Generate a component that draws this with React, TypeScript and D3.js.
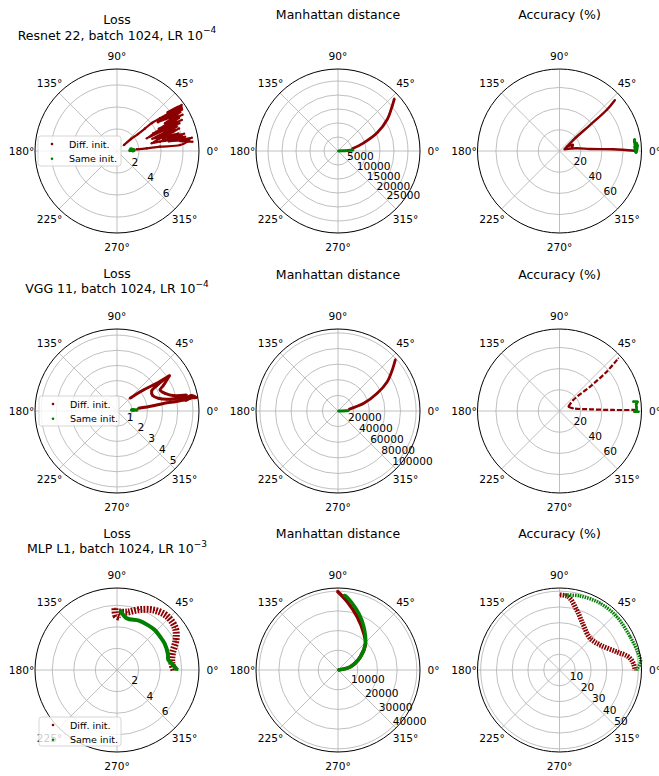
import React from "react";
import * as d3 from "d3";

type P = [number, number]; // [theta in degrees, radius value]

const W = 659;
const H = 776;
const R = 82;
const RED = "#8b0000";
const GREEN = "#008000";
const angleTicks = [0, 45, 90, 135, 180, 225, 270, 315];

// ---------------- Row 1 : Resnet 22 ----------------
const resnetLossTicks = [2, 4, 6];
const resnetLossMax = 7.45;
const resnetLossDiff: P[][] = [
  [[40.6, 0.84], [40.6, 1.67], [39, 2.45], [38.8, 3.26], [38.7, 4.07], [34.4, 7.09], [37.3, 4.91], [33.4, 7.04],
   [35, 4.55], [31.5, 6.73], [30, 5.04], [31.1, 6.34], [26.1, 4.69], [28, 6.36], [23, 2.94], [25.6, 6.52],
   [26, 3.67], [22.2, 5.86], [17.7, 3.79], [20, 6.0], [18.9, 5.41], [17.8, 4.75], [12.5, 3.23], [13.9, 6.05],
   [12.2, 4.0], [11.9, 6.32], [12.1, 4.77], [8.7, 6.65], [12, 5.55], [7.6, 6.39], [5.4, 5.75], [5.7, 3.93],
   [5.2, 2.71], [4.9, 1.8]],
  [[36, 4.6], [36, 6.6], [33, 5.3], [32.5, 7.0], [31, 5.6], [29, 6.8], [28, 4.3], [27.5, 5.8], [24, 4.2],
   [24, 6.2], [21, 4.4], [21.5, 5.5], [19, 3.4], [16, 5.8], [15, 4.3], [14.5, 6.3], [10.5, 4.8], [10, 6.9],
   [9, 5.8], [7, 6.9]],
  [[37.5, 5.8], [35.5, 7.2], [34, 6.2], [29.5, 5.9], [25, 5.2], [22.5, 4.8], [19.5, 4.9], [16.5, 4.9], [13.5, 5.2], [11, 5.6]],
];
const resnetLossSame: P[][] = [[[2, 1.18], [4, 1.32], [6, 1.36], [1, 1.45], [3, 1.55], [8, 1.27]]];

const resnetDistTicks = [5000, 10000, 15000, 20000, 25000];
const resnetDistMax = 29300;
const resnetDistDiff: P[][] = [[[8.8, 5145], [17.6, 9650], [24.9, 15435], [32.6, 20870], [39.6, 25120], [42.9, 27510]]];
const resnetDistSame: P[][] = [[[0, 0], [2, 1790], [3, 3570], [3.7, 5540]]];

const resnetAccTicks = [20, 40, 60];
const resnetAccMax = 77.4;
const resnetAccDiff: P[][] = [
  [[20, 5], [38.6, 16.6], [40.4, 37.8], [41, 59], [42.6, 71.2]],
  [[20, 5], [9, 16.4], [3.7, 28.9], [1.8, 50.8], [0.2, 71.3]],
  [[30, 8], [25, 14], [15, 12]],
];
const resnetAccSame: P[][] = [[[8.8, 71.7], [7, 71.3], [5, 71.7], [3, 71.3], [1, 71.7], [-1, 72.2], [4, 73.6], [6, 72.7]]];

// ---------------- Row 2 : VGG 11 ----------------
const vggLossTicks = [1, 2, 3, 4, 5];
const vggLossMax = 5.4;
const vggLossDiff: P[][] = [
  [[44.3, 1.2], [38.6, 2.22], [34.9, 3.19], [34, 4.16], [33.8, 3.67], [32.5, 3.1], [30, 2.64], [23.2, 2.56],
   [17.1, 2.85], [13.2, 3.36], [12, 4.02], [11.4, 4.57], [10.6, 5.11], [9.9, 4.88], [9.4, 4.43], [9.1, 3.87],
   [9.3, 3.54], [8.3, 2.42], [7.2, 1.42]],
  [[34, 4.16], [29, 3.5], [26, 3.16], [20.2, 3.37], [15, 3.9], [13, 4.7]],
  [[12.5, 4.2], [10.8, 4.7], [11.8, 5.0], [9.6, 5.3], [10.2, 4.9], [8.8, 4.6], [11, 4.3]],
];
const vggLossSame: P[][] = [[[4, 0.97], [3.5, 1.12], [3, 1.3], [4.5, 1.05]]];

const vggDistTicks = [20000, 40000, 60000, 80000, 100000];
const vggDistMax = 105000;
const vggDistDiff: P[][] = [[[9, 13960], [16.6, 34450], [24.3, 55060], [30.8, 73370], [37.1, 87070], [42, 98980]]];
const vggDistSame: P[][] = [[[0, 0], [1, 5120], [1.5, 10240], [2, 13830]]];

const vggAccTicks = [20, 40, 60];
const vggAccMax = 77.4;
const vggAccDiff: P[][] = [
  [[26, 9.4], [38.6, 16.6], [38.5, 36.8], [39.8, 58], [41.9, 74.6]],
  [[26, 9.4], [11, 13.2], [3.2, 28.8], [1.1, 50.8], [0.8, 71.3]],
];
const vggAccSame: P[][] = [
  [[7.2, 70.3], [6.8, 74.1], [5, 72.7], [3, 72.7], [1, 72.7], [-0.5, 70.8], [-0.5, 74.6]],
];

// ---------------- Row 3 : MLP L1 ----------------
const mlpLossTicks = [2, 4, 6];
const mlpLossMax = 7.6;
const mlpLossDiff: P[][] = [
  [[91.9, 5.72], [91, 5.01], [86.7, 4.89]],
  [[88, 5.38], [80, 5.45], [70, 5.95], [58, 6.54], [47, 6.81], [36, 6.67], [27, 6.14], [16, 5.33], [7, 5.13], [0, 5.28]],
];
const mlpLossSame: P[][] = [
  [[87.1, 5.57], [79.4, 4.88], [66, 5.0], [55, 5.05], [47, 5.1], [38, 5.05], [29, 5.05], [18, 4.95], [11, 4.85], [7, 5.1], [0, 5.6]],
];

const mlpDistTicks = [10000, 20000, 30000, 40000];
const mlpDistMax = 41600;
const mlpDistDiff: P[][] = [
  [[0, 0], [14.8, 6540], [30.6, 13240], [44.1, 19430], [54.9, 22780], [70.2, 28760], [82.3, 34950], [90.6, 40080]],
];
const mlpDistSame: P[][] = [
  [[0, 0], [14.8, 6540], [30.6, 13240], [44.1, 19430], [59.2, 25570], [69.9, 30640], [78, 34600], [84.2, 37740], [85.6, 38150]],
];

const mlpAccTicks = [10, 20, 30, 40, 50];
const mlpAccMax = 52;
const mlpAccDiff: P[][] = [
  [[89.6, 47.6], [83.2, 46.8], [74, 39.6], [62.1, 32.3], [46.1, 27.9], [31.7, 30.2], [17.7, 38], [10.9, 44.4], [5.2, 47], [0, 47.9]],
];
const mlpAccSame: P[][] = [
  [[85.8, 47.7], [74.5, 48.7], [58.7, 49.5], [43, 49.6], [25.3, 49.5], [12, 51.1], [6, 51.7], [0, 48.9]],
];

// ---------------- Layout ----------------
const colX = [117, 338, 559.5];
const rowY = [151, 411, 670];

interface Style { width: number; dash?: string; dot: number }
interface TitleLine { y: number; text: string; sup?: string }

interface PanelProps {
  cx: number; cy: number; rmax: number; ticks: number[];
  diff: P[][]; same: P[][];
  diffStyle: Style; sameStyle: Style;
  titles: TitleLine[];
  legend?: { x: number; y: number; w: number; h: number };
}

const FONT = "DejaVu Sans, Verdana, sans-serif";
const rad = (d: number) => (d * Math.PI) / 180;

function Panel(p: PanelProps) {
  const r = d3.scaleLinear().domain([0, p.rmax]).range([0, R]);
  const line = d3
    .lineRadial<P>()
    .angle((d) => Math.PI / 2 - rad(d[0]))
    .radius((d) => r(d[1]))
    .curve(d3.curveCatmullRom.alpha(0.5));
  const xy = (d: P) => [r(d[1]) * Math.cos(rad(d[0])), -r(d[1]) * Math.sin(rad(d[0]))];

  const series = (traces: P[][], color: string, s: Style, key: string) => (
    <g key={key}>
      {traces.map((t, i) => (
        <path key={i} d={line(t) || ""} fill="none" stroke={color} strokeWidth={s.width}
          strokeDasharray={s.dash} strokeLinejoin="round" />
      ))}
      {traces.map((t, i) =>
        t.map((d, j) => {
          const [x, y] = xy(d);
          return <circle key={`${i}-${j}`} cx={x} cy={y} r={s.dot} fill={color} />;
        })
      )}
    </g>
  );

  return (
    <g>
      {p.titles.map((t, i) => (
        <text key={i} x={p.cx} y={t.y} textAnchor="middle" dominantBaseline="central" fontSize={12.5} fontFamily={FONT} fill="#000">
          {t.text}
          {t.sup && <tspan dy={-5} fontSize={9}>{t.sup}</tspan>}
        </text>
      ))}
      <g transform={`translate(${p.cx},${p.cy})`}>
        {p.ticks.map((t) => (
          <circle key={t} r={r(t)} fill="none" stroke="#b0b0b0" strokeWidth={0.8} />
        ))}
        {angleTicks.map((a) => (
          <line key={a} x1={0} y1={0} x2={R * Math.cos(rad(a))} y2={-R * Math.sin(rad(a))} stroke="#b0b0b0" strokeWidth={0.8} />
        ))}
        {series(p.diff, RED, p.diffStyle, "diff")}
        {series(p.same, GREEN, p.sameStyle, "same")}
        <circle r={R} fill="none" stroke="#000" strokeWidth={1} />
        {angleTicks.map((a) => (
          <text key={a} x={95.5 * Math.cos(rad(a))} y={-95.5 * Math.sin(rad(a))} textAnchor="middle"
            dominantBaseline="central" fontSize={10.6} fontFamily={FONT} fill="#000">
            {`${a}°`}
          </text>
        ))}
        {p.ticks.map((t) => (
          <text key={t} x={r(t) * Math.SQRT1_2 - 1} y={r(t) * Math.SQRT1_2 - 5} textAnchor="start"
            dominantBaseline="central" fontSize={10.6} fontFamily={FONT} fill="#000">
            {String(t)}
          </text>
        ))}
      </g>
      {p.legend && (
        <g>
          <rect x={p.legend.x} y={p.legend.y} width={p.legend.w} height={p.legend.h} rx={2.5}
            fill="#fff" fillOpacity={0.8} stroke="#cccccc" strokeWidth={0.8} />
          <circle cx={p.legend.x + 14} cy={p.legend.y + 8} r={1.3} fill={RED} />
          <text x={p.legend.x + 31} y={p.legend.y + 8} dominantBaseline="central" fontSize={9.5} fontFamily={FONT} fill="#000">Diff. init.</text>
          <circle cx={p.legend.x + 14} cy={p.legend.y + 22.7} r={1.3} fill={GREEN} />
          <text x={p.legend.x + 31} y={p.legend.y + 22.7} dominantBaseline="central" fontSize={9.5} fontFamily={FONT} fill="#000">Same init.</text>
        </g>
      )}
    </g>
  );
}

export default function App() {
  const panels: PanelProps[] = [
    {
      cx: colX[0], cy: rowY[0], rmax: resnetLossMax, ticks: resnetLossTicks, diff: resnetLossDiff, same: resnetLossSame,
      diffStyle: { width: 2.2, dot: 1.2 }, sameStyle: { width: 3, dot: 1.8 },
      titles: [{ y: 19.5, text: "Loss" }, { y: 35, text: "Resnet 22, batch 1024, LR 10", sup: "−4" }],
      legend: { x: 38, y: 136, w: 83, h: 30 },
    },
    {
      cx: colX[1], cy: rowY[0], rmax: resnetDistMax, ticks: resnetDistTicks, diff: resnetDistDiff, same: resnetDistSame,
      diffStyle: { width: 2.8, dot: 1 }, sameStyle: { width: 3, dot: 1 },
      titles: [{ y: 14, text: "Manhattan distance" }],
    },
    {
      cx: colX[2], cy: rowY[0], rmax: resnetAccMax, ticks: resnetAccTicks, diff: resnetAccDiff, same: resnetAccSame,
      diffStyle: { width: 2.4, dot: 1 }, sameStyle: { width: 3, dot: 1.5 },
      titles: [{ y: 14, text: "Accuracy (%)" }],
    },
    {
      cx: colX[0], cy: rowY[1], rmax: vggLossMax, ticks: vggLossTicks, diff: vggLossDiff, same: vggLossSame,
      diffStyle: { width: 3, dot: 1.3 }, sameStyle: { width: 3, dot: 1.8 },
      titles: [{ y: 273, text: "Loss" }, { y: 288.5, text: "VGG 11, batch 1024, LR 10", sup: "−4" }],
      legend: { x: 39, y: 396, w: 80, h: 30 },
    },
    {
      cx: colX[1], cy: rowY[1], rmax: vggDistMax, ticks: vggDistTicks, diff: vggDistDiff, same: vggDistSame,
      diffStyle: { width: 2.8, dot: 1 }, sameStyle: { width: 3, dot: 1 },
      titles: [{ y: 274, text: "Manhattan distance" }],
    },
    {
      cx: colX[2], cy: rowY[1], rmax: vggAccMax, ticks: vggAccTicks, diff: vggAccDiff, same: vggAccSame,
      diffStyle: { width: 2.2, dash: "5,2", dot: 0.8 }, sameStyle: { width: 2.6, dot: 1.3 },
      titles: [{ y: 274, text: "Accuracy (%)" }],
    },
    {
      cx: colX[0], cy: rowY[2], rmax: mlpLossMax, ticks: mlpLossTicks, diff: mlpLossDiff, same: mlpLossSame,
      diffStyle: { width: 7, dash: "1.8,1.3", dot: 0.8 }, sameStyle: { width: 4, dot: 1 },
      titles: [{ y: 533, text: "Loss" }, { y: 548.5, text: "MLP L1, batch 1024, LR 10", sup: "−3" }],
      legend: { x: 39, y: 717, w: 82, h: 29 },
    },
    {
      cx: colX[1], cy: rowY[2], rmax: mlpDistMax, ticks: mlpDistTicks, diff: mlpDistDiff, same: mlpDistSame,
      diffStyle: { width: 3.5, dot: 1 }, sameStyle: { width: 3.5, dot: 1 },
      titles: [{ y: 533, text: "Manhattan distance" }],
    },
    {
      cx: colX[2], cy: rowY[2], rmax: mlpAccMax, ticks: mlpAccTicks, diff: mlpAccDiff, same: mlpAccSame,
      diffStyle: { width: 5, dash: "1.6,1.1", dot: 0.8 }, sameStyle: { width: 3.5, dash: "1.5,1", dot: 0.8 },
      titles: [{ y: 533, text: "Accuracy (%)" }],
    },
  ];

  return (
    <svg width={W} height={H} viewBox={`0 0 ${W} ${H}`}
      style={{ position: "absolute", left: 0, top: 0, background: "#fff" }}>
      <rect width={W} height={H} fill="#fff" />
      {panels.map((p, i) => (
        <Panel key={i} {...p} />
      ))}
    </svg>
  );
}
